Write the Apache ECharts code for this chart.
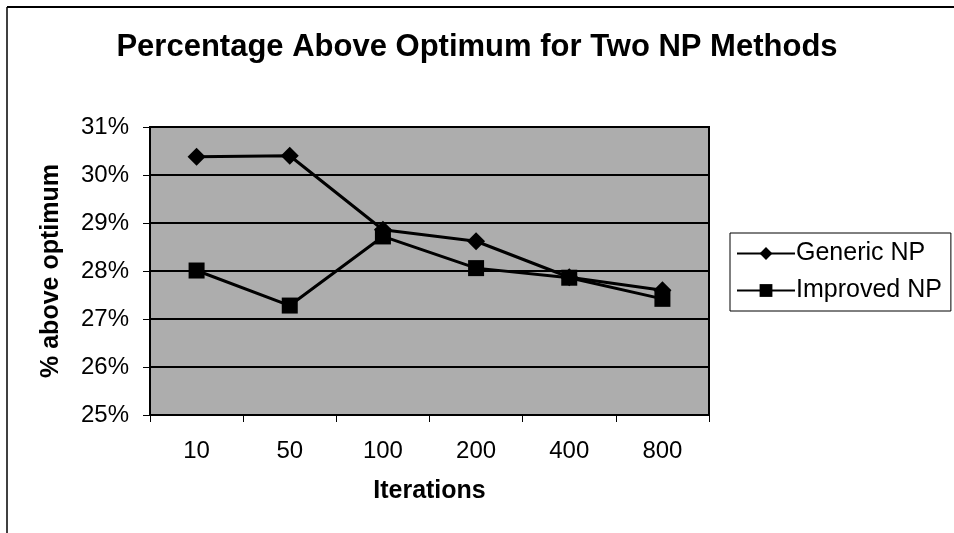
<!DOCTYPE html>
<html>
<head>
<meta charset="utf-8">
<script src="https://cdn.jsdelivr.net/npm/echarts@6/dist/echarts.min.js"></script>
<style>
  html, body { margin: 0; padding: 0; background: #fff; }
  #chart { width: 954px; height: 533px; }
</style>
</head>
<body>
<div id="chart"></div>
<script>
// Iteration counts on the x axis
const iterations = ['10', '50', '100', '200', '400', '800'];
// Percentage above optimum for each method
const genericNP = [30.38, 30.40, 28.86, 28.62, 27.87, 27.60];
const improvedNP = [28.01, 27.28, 28.72, 28.06, 27.86, 27.42];
// Y axis range (percent)
const yMin = 25, yMax = 31, yStep = 1;

const FONT = '"Liberation Sans", Arial, sans-serif';
const chart = echarts.init(document.getElementById('chart'), null, { renderer: 'canvas' });

chart.setOption({
  backgroundColor: '#ffffff',
  animation: false,
  textStyle: { fontFamily: FONT, color: '#000' },
  title: {
    text: 'Percentage Above Optimum for Two NP Methods',
    left: 'center',
    top: 27,
    textStyle: { fontFamily: FONT, fontSize: 31, fontWeight: 'bold', color: '#000' }
  },
  graphic: [
    { type: 'line', shape: { x1: 7, y1: 7, x2: 954, y2: 7 }, style: { stroke: '#000', lineWidth: 2 } },
    { type: 'line', shape: { x1: 7, y1: 7, x2: 7, y2: 533 }, style: { stroke: '#000', lineWidth: 1.5 } }
  ],
  legend: {
    orient: 'vertical',
    left: 730,
    top: 233,
    padding: [8, 9, 8, 6],
    borderColor: '#000',
    borderWidth: 1,
    backgroundColor: '#fff',
    itemWidth: 58,
    itemHeight: 16,
    itemGap: 12,
    textStyle: { fontFamily: FONT, fontSize: 25, color: '#000', padding: [0, 0, 0, -4] },
    data: ['Generic NP', 'Improved NP']
  },
  grid: {
    left: 150,
    right: 245,
    top: 127,
    bottom: 118,
    show: true,
    backgroundColor: '#adadad',
    borderColor: '#000',
    borderWidth: 2
  },
  xAxis: {
    type: 'category',
    data: iterations,
    boundaryGap: true,
    name: 'Iterations',
    nameLocation: 'middle',
    nameGap: 64,
    nameTextStyle: { fontFamily: FONT, fontSize: 25, fontWeight: 'bold', color: '#000' },
    axisLine: { show: true, lineStyle: { color: '#000', width: 2 } },
    axisTick: { show: true, alignWithLabel: false, length: 7, inside: false, lineStyle: { color: '#000', width: 1 } },
    axisLabel: { fontFamily: FONT, fontSize: 24, color: '#000', margin: 24 },
    splitLine: { show: false }
  },
  yAxis: {
    type: 'value',
    min: yMin,
    max: yMax,
    interval: yStep,
    name: '% above optimum',
    nameLocation: 'middle',
    nameRotate: 90,
    nameGap: 86,
    nameTextStyle: { fontFamily: FONT, fontSize: 25, fontWeight: 'bold', color: '#000' },
    axisLine: { show: true, lineStyle: { color: '#000', width: 2 } },
    axisTick: { show: true, length: 7, lineStyle: { color: '#000', width: 1 } },
    axisLabel: { fontFamily: FONT, fontSize: 24, color: '#000', margin: 21, formatter: '{value}%' },
    splitLine: { show: true, lineStyle: { color: '#000', width: 2 } }
  },
  series: [
    {
      name: 'Generic NP',
      type: 'line',
      data: genericNP,
      symbol: 'diamond',
      symbolSize: 18,
      lineStyle: { color: '#000', width: 3 },
      itemStyle: { color: '#000' },
      z: 3
    },
    {
      name: 'Improved NP',
      type: 'line',
      data: improvedNP,
      symbol: 'rect',
      symbolSize: 16,
      lineStyle: { color: '#000', width: 3 },
      itemStyle: { color: '#000' },
      z: 4
    }
  ]
});
</script>
</body>
</html>
